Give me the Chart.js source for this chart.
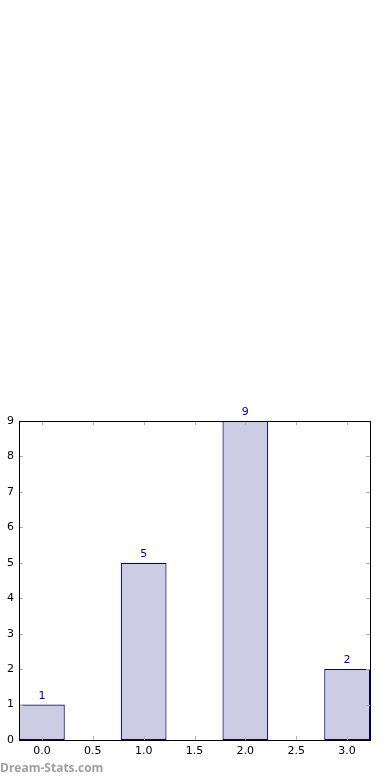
<!DOCTYPE html>
<html>
<head>
<meta charset="utf-8">
<script src="https://cdn.jsdelivr.net/npm/chart.js@4/dist/chart.umd.min.js"></script>
<style>
html,body{margin:0;padding:0;background:#fff;}
#wrap{position:relative;width:390px;height:780px;}
#c{position:absolute;left:0;top:0;}
#wm{position:absolute;left:0;top:760px;font-family:"Open Sans",sans-serif;font-weight:bold;font-size:12px;line-height:16px;color:#a0a0a0;}
</style>
</head>
<body>
<div id="wrap">
<canvas id="c" width="390" height="780"></canvas>
<div id="wm">Dream-Stats.com</div>
</div>
<script>
const xValues = [0, 1, 2, 3];
const counts = [1, 5, 9, 2];
const xTickStep = 0.5;
const yTickStep = 1;

const barFill = '#ccccE5';
const barEdge = '#000080';
const font = {family: 'DejaVu Sans', size: 11};

const framePlugin = {
  id: 'frame',
  afterDraw(chart) {
    const ctx = chart.ctx, a = chart.chartArea;
    const xs = chart.scales.x, ys = chart.scales.y;
    ctx.save();
    ctx.strokeStyle = '#b0b0b0';
    ctx.lineWidth = 1;
    const L = 4;
    xs.ticks.forEach(t => {
      const px = Math.round(xs.getPixelForValue(t.value)) + 0.5;
      ctx.beginPath();
      ctx.moveTo(px, a.bottom); ctx.lineTo(px, a.bottom - L);
      ctx.moveTo(px, a.top); ctx.lineTo(px, a.top + L);
      ctx.stroke();
    });
    ys.ticks.forEach(t => {
      const py = Math.round(ys.getPixelForValue(t.value)) + 0.5;
      ctx.beginPath();
      ctx.moveTo(a.left, py); ctx.lineTo(a.left + L, py);
      ctx.moveTo(a.right, py); ctx.lineTo(a.right - L, py);
      ctx.stroke();
    });
    ctx.strokeStyle = '#000';
    ctx.strokeRect(Math.round(a.left) + 0.5, Math.round(a.top) + 0.5, Math.round(a.right - a.left), Math.round(a.bottom - a.top));
    // value labels
    ctx.fillStyle = barEdge;
    ctx.font = '11px "DejaVu Sans"';
    ctx.textAlign = 'center';
    ctx.textBaseline = 'bottom';
    const meta = chart.getDatasetMeta(0);
    meta.data.forEach((el, i) => {
      ctx.fillText(String(counts[i]), el.x, el.y - 3);
    });
    ctx.restore();
  }
};

new Chart(document.getElementById('c'), {
  type: 'bar',
  data: {
    datasets: [{
      data: xValues.map((x, i) => ({x: x, y: counts[i]})),
      backgroundColor: barFill,
      borderColor: barEdge,
      borderWidth: 1.2,
      borderSkipped: false,
      categoryPercentage: 1,
      barPercentage: 0.9
    }]
  },
  options: {
    responsive: false,
    animation: false,
    events: [],
    layout: {padding: {left: 0, right: 20, top: 421, bottom: 0}},
    plugins: {legend: {display: false}, tooltip: {enabled: false}},
    scales: {
      x: {
        type: 'linear',
        offset: false,
        min: -0.225,
        max: 3.225,
        grid: {display: false, drawTicks: false, offset: false},
        border: {display: false},
        ticks: {stepSize: xTickStep, includeBounds: false, color: '#000', font: font, padding: 5, maxRotation: 0,
          callback: v => Number(v).toFixed(1)},
        afterFit: s => { s.height = 40; }
      },
      y: {
        min: 0,
        max: 9,
        grid: {display: false, drawTicks: false},
        border: {display: false},
        ticks: {stepSize: yTickStep, color: '#000', font: font, padding: 5},
        afterFit: s => { s.width = 19; }
      }
    }
  },
  plugins: [framePlugin]
});
</script>
</body>
</html>
